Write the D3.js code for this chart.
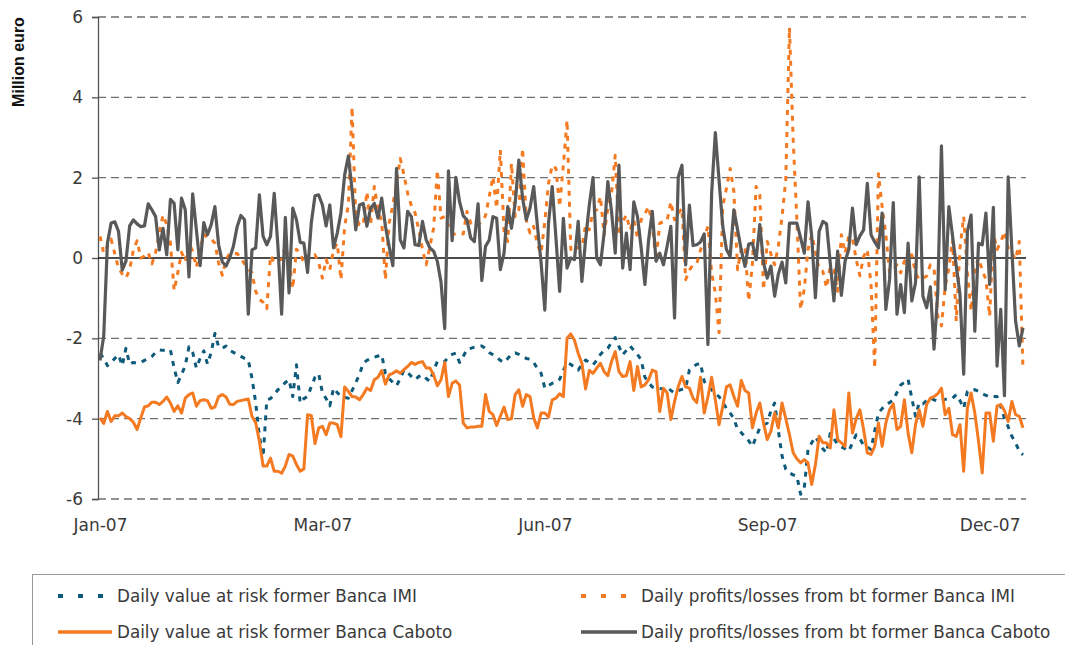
<!DOCTYPE html>
<html><head><meta charset="utf-8">
<script src="https://cdn.jsdelivr.net/npm/d3@7"></script>
<style>body{margin:0;background:#fff}svg{display:block}text{font-family:"DejaVu Sans",sans-serif}</style>
</head><body><svg id="c" width="1065" height="645"></svg>
<script>
const xTickLabels = ["Jan-07","Mar-07","Jun-07","Sep-07","Dec-07"];
const xTickIndex = [0,60,120,180,240];
const yTicks = [-6,-4,-2,0,2,4,6];
const seriesNames = ["Daily value at risk former Banca IMI","Daily profits/losses from bt former Banca IMI","Daily value at risk former Banca Caboto","Daily profits/losses from bt former Banca Caboto"];

const imiVaR = [-2.37,-2.5,-2.68,-2.6,-2.5,-2.41,-2.68,-2.25,-2.64,-2.6,
-2.62,-2.6,-2.55,-2.51,-2.45,-2.35,-2.29,-2.3,-2.28,-2.29,
-2.74,-3.1,-2.9,-2.68,-2.21,-2.35,-2.74,-2.5,-2.31,-2.64,
-2.35,-1.88,-2.21,-2.25,-2.19,-2.3,-2.35,-2.4,-2.45,-2.5,
-2.54,-2.99,-3.6,-4.44,-4.95,-3.53,-3.5,-3.4,-3.28,-3.2,
-3.1,-3.03,-3.45,-2.66,-3.61,-3.5,-3.45,-3.2,-2.97,-2.88,
-3.36,-3.5,-3.68,-3.24,-3.35,-3.45,-3.47,-3.49,-3.3,-3.1,
-2.9,-2.62,-2.55,-2.5,-2.47,-2.44,-2.41,-2.87,-3.0,-3.1,
-3.18,-3.0,-2.79,-2.85,-2.95,-3.03,-2.95,-2.91,-3.0,-3.07,
-2.8,-2.58,-2.58,-2.58,-2.45,-2.4,-2.37,-2.6,-2.45,-2.27,
-2.25,-2.22,-2.2,-2.19,-2.25,-2.35,-2.41,-2.47,-2.55,-2.6,
-2.5,-2.4,-2.36,-2.4,-2.45,-2.5,-2.52,-2.6,-2.75,-2.87,
-3.24,-3.18,-3.12,-3.1,-3.02,-2.8,-2.6,-2.65,-2.72,-2.79,
-2.65,-2.54,-2.6,-2.66,-2.55,-2.4,-2.3,-2.25,-2.1,-1.98,
-2.2,-2.41,-2.3,-2.19,-2.3,-2.4,-2.54,-2.97,-3.1,-3.21,
-3.23,-3.25,-3.26,-3.21,-3.3,-3.36,-3.3,-3.27,-3.24,-2.79,
-2.7,-2.65,-2.62,-3.07,-3.2,-3.28,-3.38,-3.45,-3.6,-3.74,
-3.86,-4.0,-4.27,-4.35,-4.45,-4.55,-4.69,-4.45,-4.23,-4.15,
-4.11,-3.8,-3.61,-4.3,-4.93,-5.26,-5.35,-5.4,-5.43,-5.88,
-5.72,-4.77,-4.6,-4.45,-4.6,-4.75,-4.85,-4.37,-4.5,-4.64,
-4.7,-4.75,-4.81,-4.6,-4.4,-4.5,-4.66,-4.7,-4.77,-4.3,
-3.86,-3.75,-3.65,-3.6,-3.53,-3.35,-3.16,-3.1,-3.02,-3.49,
-3.94,-3.6,-3.63,-3.55,-3.49,-3.53,-3.57,-3.55,-3.52,-3.5,
-3.49,-3.4,-3.55,-3.74,-3.32,-3.3,-3.28,-3.32,-3.38,-3.42,
-3.46,-3.45,-3.45,-3.7,-4.0,-4.2,-4.44,-4.6,-4.81,-4.9];

const imiPL = [0.54,0.12,0.3,0.47,0.1,-0.25,-0.4,-0.5,-0.29,0.2,
0.43,0.0,0.05,0.14,-0.15,0.14,0.62,1.07,0.83,0.37,
-0.81,-0.36,0.14,-0.08,0.37,0.17,-0.23,0.2,0.6,0.5,
0.47,0.37,-0.12,-0.43,-0.04,0.12,0.1,0.11,0.0,-0.15,
-0.27,-0.37,-0.83,-1.03,-1.1,-1.26,0.06,-0.11,-0.05,-0.04,
0.31,-0.08,-0.76,0.22,0.12,-0.12,0.06,0.05,0.08,-0.12,
-0.5,-0.04,-0.29,0.2,0.37,-0.54,0.79,1.32,3.76,1.0,
0.83,0.81,1.65,0.83,1.78,1.2,0.91,-0.54,0.87,1.32,
1.86,2.48,2.07,1.61,1.3,1.12,0.7,0.21,-0.17,0.29,
0.74,2.19,0.99,1.03,0.8,0.62,0.58,0.58,0.6,1.16,
0.87,0.79,0.83,0.9,1.05,1.53,2.02,1.24,2.69,0.66,
0.41,2.36,1.03,1.2,2.73,0.95,0.62,0.79,0.33,0.12,
0.91,1.86,2.31,2.23,1.28,2.31,3.43,0.21,0.3,0.25,
0.25,0.83,0.7,1.16,1.2,1.53,0.58,1.24,1.61,2.56,
0.58,0.9,1.07,0.7,0.95,0.5,0.95,1.1,1.28,0.83,
-0.08,0.87,0.9,0.93,1.4,0.95,1.1,1.24,-0.54,-0.3,
-0.17,-0.14,0.2,0.5,0.79,-0.37,-0.87,-1.86,1.28,1.74,
2.23,1.65,-0.29,0.25,0.29,-1.07,-0.15,1.78,1.57,-0.79,
0.41,0.1,-0.17,0.3,1.03,1.94,5.74,2.93,0.95,-1.28,
-0.77,0.21,0.58,0.17,-0.29,-0.33,-0.74,-0.21,-0.3,-0.83,
0.58,0.12,0.54,0.5,-0.04,-0.44,0.04,0.21,-0.66,-2.74,
2.1,1.28,0.58,-0.37,-0.29,-0.17,-0.37,-0.08,0.0,0.08,
-0.37,-0.54,-0.5,-0.45,-0.17,-0.25,-1.45,-1.69,-0.72,-0.25,
0.45,-1.57,0.25,1.03,-0.37,-1.32,-0.25,0.0,-0.3,-0.54,
-1.45,0.62,0.21,0.4,0.66,0.25,0.12,-0.04,0.41,-2.8];

const cabotoVaR = [-3.98,-4.12,-3.82,-4.07,-3.93,-3.93,-3.86,-3.95,-4.0,-4.09,
-4.27,-3.98,-3.71,-3.68,-3.59,-3.59,-3.65,-3.57,-3.46,-3.61,
-3.82,-3.68,-3.86,-3.49,-3.4,-3.36,-3.69,-3.55,-3.53,-3.55,
-3.74,-3.71,-3.45,-3.4,-3.46,-3.64,-3.65,-3.57,-3.55,-3.53,
-3.51,-3.94,-4.1,-4.56,-5.18,-5.18,-4.98,-5.31,-5.31,-5.36,
-5.18,-4.89,-4.93,-5.14,-5.31,-5.25,-3.9,-3.92,-4.62,-4.23,
-4.19,-4.4,-4.11,-4.11,-4.15,-4.45,-3.21,-3.32,-3.45,-3.46,
-3.53,-3.4,-3.24,-3.3,-3.03,-2.97,-2.8,-3.14,-2.91,-2.87,
-2.81,-2.87,-2.78,-2.7,-2.6,-2.65,-2.6,-2.58,-2.74,-2.74,
-2.91,-3.18,-3.03,-2.6,-3.45,-3.12,-3.06,-3.16,-4.11,-4.23,
-4.21,-4.21,-4.19,-4.19,-3.4,-3.82,-3.9,-4.17,-3.94,-3.71,
-4.02,-4.0,-3.4,-3.28,-3.69,-3.4,-3.45,-3.98,-4.23,-3.86,
-3.86,-3.96,-3.53,-3.49,-3.38,-3.45,-2.0,-1.89,-2.05,-2.37,
-2.62,-3.26,-2.8,-2.87,-2.74,-2.62,-2.83,-2.93,-2.58,-2.33,
-2.83,-2.95,-2.93,-2.58,-3.3,-2.7,-3.21,-3.16,-3.03,-2.79,
-2.83,-3.82,-3.24,-3.36,-4.02,-3.57,-3.2,-2.95,-3.21,-3.24,
-3.49,-3.6,-2.97,-3.86,-3.46,-2.97,-3.53,-4.15,-3.7,-3.21,
-3.16,-3.45,-3.69,-3.05,-3.3,-3.36,-4.23,-3.86,-3.61,-4.11,
-4.52,-4.31,-3.86,-4.23,-3.61,-4.0,-4.4,-4.85,-5.0,-5.1,
-5.02,-5.1,-5.64,-5.14,-4.44,-4.6,-4.6,-4.73,-3.78,-4.52,
-4.6,-4.69,-3.36,-4.36,-4.0,-3.78,-4.27,-4.85,-4.89,-4.69,
-4.11,-4.69,-4.11,-3.78,-3.63,-4.27,-4.19,-3.53,-4.36,-4.85,
-4.15,-3.78,-4.19,-3.65,-3.49,-3.45,-3.38,-3.24,-3.9,-3.74,
-4.4,-4.44,-4.15,-5.31,-3.74,-3.36,-3.86,-4.56,-5.35,-3.86,
-3.86,-4.56,-3.68,-3.65,-3.8,-4.07,-3.57,-3.9,-3.94,-4.23];

const cabotoPL = [-2.55,-1.95,0.37,0.87,0.9,0.66,-0.3,-0.08,0.8,0.95,
0.85,0.78,0.8,1.35,1.2,1.03,0.2,0.74,0.08,1.46,
1.36,0.2,1.49,1.2,-0.47,1.6,0.7,-0.19,0.88,0.58,
0.83,1.28,0.33,-0.1,-0.2,0.0,0.3,0.78,1.06,0.95,
-1.4,0.2,0.25,1.57,0.54,0.33,0.54,1.61,0.29,-1.4,
1.01,-0.87,1.24,0.95,0.39,0.37,-0.36,0.87,1.55,1.57,
1.32,0.8,1.32,0.25,0.62,1.12,2.07,2.54,1.69,0.7,
1.32,1.36,0.79,1.24,1.36,0.99,1.49,0.79,0.29,-0.19,
2.23,0.45,0.25,1.16,1.03,0.33,0.31,0.91,0.45,0.25,
0.17,-0.08,-0.6,-1.76,2.17,0.43,2.01,1.4,1.05,0.95,
0.5,0.41,1.35,-0.56,0.29,0.45,1.03,0.99,-0.29,0.12,
1.28,0.74,1.36,2.44,1.49,0.95,1.24,1.78,0.8,-0.12,
-1.3,0.87,1.78,0.5,-0.83,0.99,-0.25,0.0,-0.04,0.91,
-0.58,0.45,1.32,2.0,0.0,-0.17,0.62,1.9,1.16,0.12,
2.31,-0.25,0.62,-0.29,1.4,1.03,0.25,-0.66,0.45,1.16,
-0.08,0.12,-0.17,0.3,0.79,-1.49,2.02,2.31,-0.17,1.32,
0.31,0.33,0.4,0.6,-2.15,1.61,3.12,1.94,0.79,0.21,
0.04,1.2,0.7,0.2,-0.21,0.35,0.37,-0.04,0.83,-0.12,
-0.5,-0.2,-0.95,-0.4,-0.1,-0.62,0.87,0.87,0.87,0.5,
0.12,1.4,0.54,-0.99,0.66,0.91,0.85,-0.12,-1.07,0.17,
-0.93,-0.08,0.21,1.24,0.33,0.55,0.7,1.86,0.58,0.4,
0.25,1.12,-1.28,-0.54,1.38,-1.4,-0.66,-1.36,0.37,-1.07,
-0.62,2.02,-0.95,-1.24,-0.72,-2.27,-0.87,2.79,-0.79,1.28,
0.54,-0.2,-0.91,-2.89,0.66,1.07,-1.82,0.37,0.33,1.12,
-0.66,1.26,-2.69,-1.28,-3.43,2.02,0.2,-1.57,-2.19,-1.74];

const colors = {blue:"#0e5a7a", orange:"#f47a22", gray:"#595959"};
const FONT = "'DejaVu Sans',sans-serif";

const svg = d3.select("#c");
const x = d3.scaleLinear().domain([0, 249]).range([100, 1023]);
const y = d3.scaleLinear().domain([-6, 6]).range([499, 17]);
const plotL = 98, plotR = 1026;

// gridlines
svg.append("g").selectAll("line").data(yTicks.filter(d => d !== 0)).join("line")
  .attr("x1", plotL).attr("x2", plotR)
  .attr("y1", d => y(d)).attr("y2", d => y(d))
  .attr("stroke", "#6f6f6f").attr("stroke-width", 1.4).attr("stroke-dasharray", "8,5");

// y axis
const yAxis = svg.append("g").attr("transform", `translate(${plotL},0)`)
  .call(d3.axisLeft(y).tickValues(yTicks).tickSize(6).tickPadding(9).tickFormat(d3.format("d")));
yAxis.select(".domain").attr("stroke", "#555").attr("stroke-width", 1.3);
yAxis.selectAll(".tick line").attr("stroke", "#555").attr("stroke-width", 1.3);
yAxis.selectAll("text").attr("font-size", 17).attr("fill", "#3a3a3a").style("font-family", FONT);
yAxis.selectAll("text").text(d => d < 0 ? "-" + Math.abs(d) : d);

// zero line
svg.append("line").attr("x1", plotL).attr("x2", plotR).attr("y1", y(0)).attr("y2", y(0))
  .attr("stroke", "#111").attr("stroke-width", 1.3);

// x labels
const xAxis = svg.append("g").attr("transform", `translate(0,${y(-6)})`)
  .call(d3.axisBottom(x).tickValues(xTickIndex).tickSize(0).tickPadding(20)
    .tickFormat((d, i) => xTickLabels[i]));
xAxis.select(".domain").remove();
xAxis.selectAll("text").attr("font-size", 17).attr("fill", "#3a3a3a").style("font-family", FONT);

// axis title
svg.append("text").attr("transform", "translate(24,62) rotate(-90)").attr("text-anchor", "middle")
  .attr("font-size", 16).attr("font-weight", "bold").attr("fill", "#111")
  .style("font-family", "'Liberation Sans',Arial,sans-serif").text("Million euro");

const line = d3.line().x((d, i) => x(i)).y(d => y(d));
const series = [
  {data: imiVaR, color: colors.blue, dash: "5,6", w: 3},
  {data: imiPL, color: colors.orange, dash: "5,6", w: 3},
  {data: cabotoVaR, color: colors.orange, dash: null, w: 3},
  {data: cabotoPL, color: colors.gray, dash: null, w: 3.2}
];
series.forEach(s => {
  svg.append("path").datum(s.data).attr("d", line).attr("fill", "none")
    .attr("stroke", s.color).attr("stroke-width", s.w).attr("stroke-linejoin", "round")
    .attr("stroke-dasharray", s.dash);
});

// legend
svg.append("rect").attr("x", 32.5).attr("y", 574.5).attr("width", 1060).attr("height", 100)
  .attr("fill", "none").attr("stroke", "#9a9a9a").attr("stroke-width", 1);
const legendPos = [[58, 596], [581, 596], [58, 632], [581, 632]];
const legendTextX = [117, 641, 117, 641];
series.forEach((s, i) => {
  const [lx, ly] = legendPos[i];
  svg.append("line").attr("x1", lx).attr("x2", i % 2 ? lx + 56 : lx + 54).attr("y1", ly).attr("y2", ly)
    .attr("stroke", s.color).attr("stroke-width", s.dash ? 4 : 3.5)
    .attr("stroke-dasharray", s.dash ? "5,15" : null);
  svg.append("text").attr("x", legendTextX[i]).attr("y", ly).attr("dy", "0.35em")
    .attr("font-size", 16.8).attr("fill", "#3a3a3a").style("font-family", FONT).text(seriesNames[i]);
});
</script></body></html>
